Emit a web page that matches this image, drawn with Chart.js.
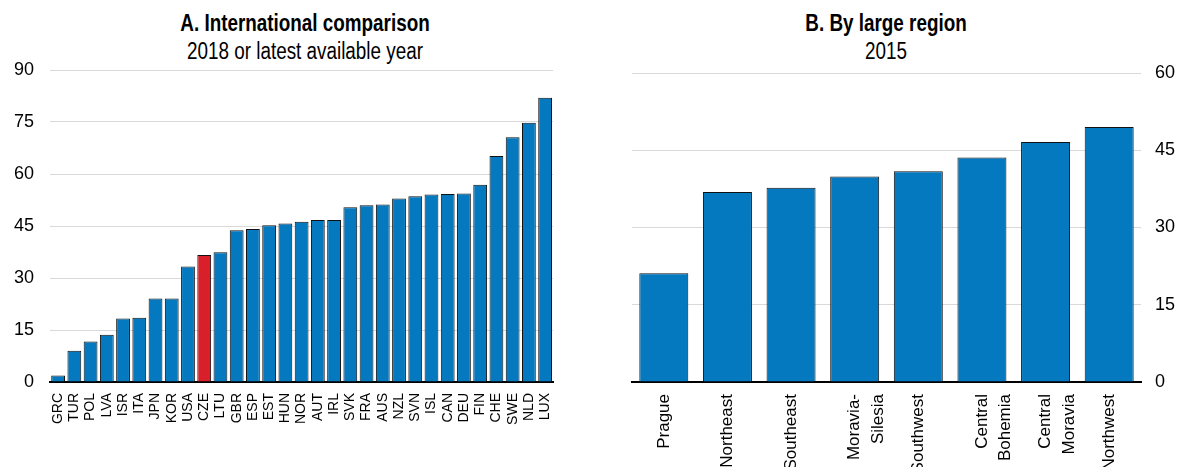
<!DOCTYPE html>
<html>
<head>
<meta charset="utf-8">
<script src="https://cdn.jsdelivr.net/npm/chart.js@4.4.1/dist/chart.umd.min.js"></script>
<style>
  body { margin: 0; background: #fff; width: 1181px; height: 467px; overflow: hidden; position: relative; font-family: "Liberation Sans", Arial, sans-serif; }
  /* panel headings, squeezed to a narrow face */
  .title { position: absolute; top: 9px; width: 500px; text-align: center; color: #000; font-size: 23px; line-height: 28px; transform: scaleX(0.82); transform-origin: center top; }
  .title b { display: block; }
  #leftBox { position: absolute; left: 0; top: 0; width: 565px; height: 467px; }
  #rightBox { position: absolute; left: 600px; top: 0; width: 581px; height: 467px; }
</style>
</head>
<body>
<div class="title" style="left:55px"><b>A. International comparison</b>2018 or latest available year</div>
<div class="title" style="left:636px"><b>B. By large region</b>2015</div>
<div id="leftBox"><canvas id="intlChart"></canvas></div>
<div id="rightBox"><canvas id="regionChart"></canvas></div>
<script>
const countries = ["GRC", "TUR", "POL", "LVA", "ISR", "ITA", "JPN", "KOR", "USA", "CZE", "LTU",
  "GBR", "ESP", "EST", "HUN", "NOR", "AUT", "IRL", "SVK", "FRA", "AUS", "NZL", "SVN", "ISL",
  "CAN", "DEU", "FIN", "CHE", "SWE", "NLD", "LUX"];
const countryValues = [1.9, 9.0, 11.7, 13.6, 18.3, 18.5, 24.1, 24.1, 33.3, 36.6, 37.4,
  43.8, 44.1, 45.2, 45.7, 46.2, 46.7, 46.7, 50.4, 51.0, 51.2, 52.9, 53.6, 54.1,
  54.2, 54.4, 56.9, 65.2, 70.6, 74.8, 82.0];
const regions = ["Prague", "Northeast", "Southeast", ["Moravia-", "Silesia"], "Southwest",
  ["Central", "Bohemia"], ["Central", "Moravia"], "Northwest"];
const regionValues = [21.1, 36.9, 37.7, 39.9, 40.9, 43.6, 46.6, 49.5];
const leftTicks = [0, 15, 30, 45, 60, 75, 90];
const rightTicks = [0, 15, 30, 45, 60];

const blue = "#0479bf";
const red = "#d9202a";
const gridGrey = "#d9d9d9";

Chart.defaults.font.family = "'Liberation Sans', Arial, sans-serif";
Chart.defaults.color = "#000";
Chart.defaults.animation = false;
Chart.defaults.maintainAspectRatio = false;
Chart.defaults.plugins.legend.display = false;
Chart.defaults.plugins.tooltip.enabled = false;

// highlight the Czech bar
const barColors = countries.map(c => (c === "CZE" ? red : blue));

new Chart(document.getElementById("intlChart"), {
  type: "bar",
  data: {
    labels: countries,
    datasets: [{
      data: countryValues,
      backgroundColor: barColors,
      borderColor: "#111",
      borderWidth: 1,
      barPercentage: 0.85,
      categoryPercentage: 1,
    }],
  },
  options: {
    layout: { padding: { top: 70, right: 5, left: 0 } },
    scales: {
      x: {
        grid: { display: false },
        border: { display: true, color: "#000", width: 2 },
        ticks: { autoSkip: false, minRotation: 90, maxRotation: 90, padding: 3, font: { size: 14 } },
        afterFit: (scale) => { scale.height = 85; },
      },
      y: {
        min: 0,
        max: 90,
        afterBuildTicks: (scale) => { scale.ticks = leftTicks.map(v => ({ value: v })); },
        grid: { color: gridGrey, drawTicks: false },
        border: { display: false },
        ticks: { padding: 16, font: { size: 18 } },
        afterFit: (scale) => { scale.width = 50; },
      },
    },
  },
});

new Chart(document.getElementById("regionChart"), {
  type: "bar",
  data: {
    labels: regions,
    datasets: [{
      data: regionValues,
      backgroundColor: blue,
      borderColor: "#111",
      borderWidth: 1,
      barPercentage: 0.77,
      categoryPercentage: 1,
    }],
  },
  options: {
    layout: { padding: { top: 73, left: 32, right: 0 } },
    scales: {
      x: {
        grid: { display: false },
        border: { display: true, color: "#000", width: 2 },
        ticks: { autoSkip: false, minRotation: 90, maxRotation: 90, padding: 4, font: { size: 17, lineHeight: 1.4 } },
        afterFit: (scale) => { scale.height = 85; },
      },
      y: {
        position: "right",
        min: 0,
        max: 60,
        afterBuildTicks: (scale) => { scale.ticks = rightTicks.map(v => ({ value: v })); },
        grid: { color: gridGrey, drawTicks: false },
        border: { display: false },
        ticks: { padding: 14, font: { size: 18 } },
        afterFit: (scale) => { scale.width = 40; },
      },
    },
  },
});
</script>
</body>
</html>
